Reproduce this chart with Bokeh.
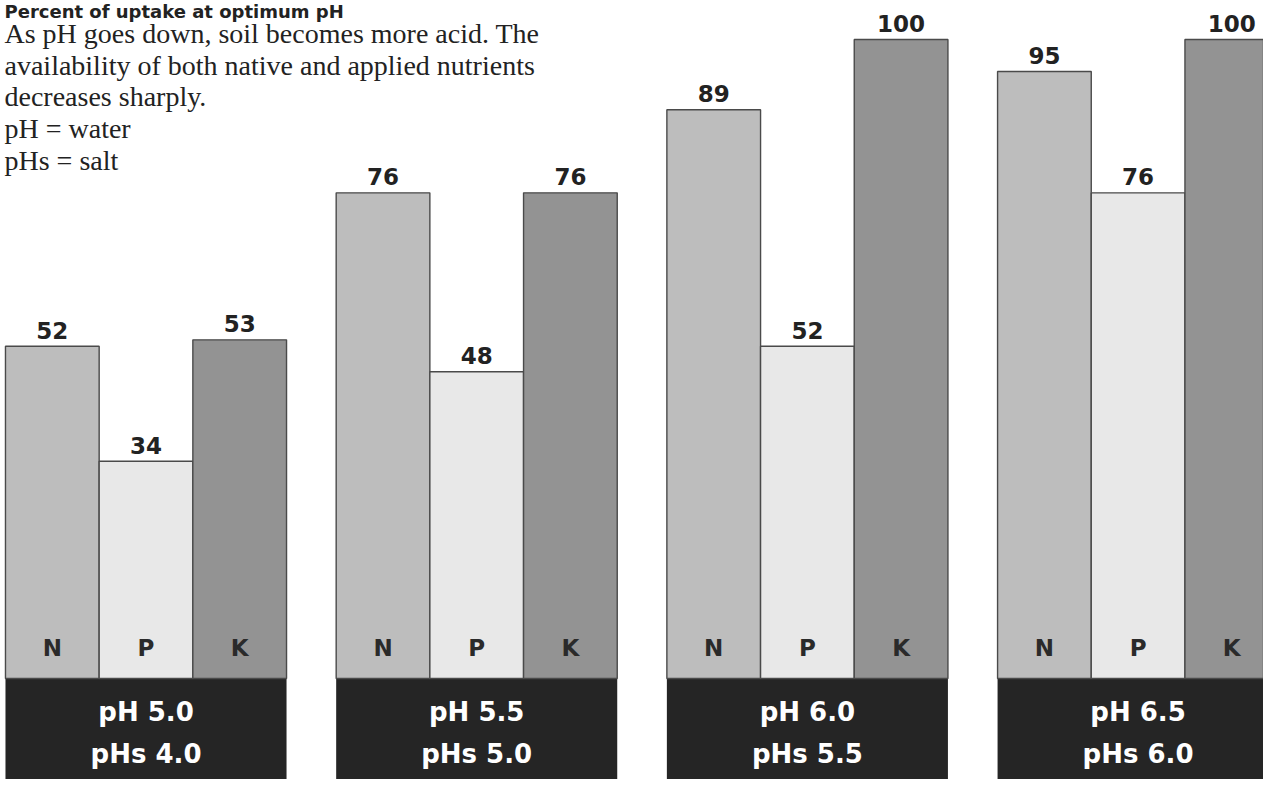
from bokeh.plotting import figure
from bokeh.models import ColumnDataSource, Range1d, Label
from bokeh.embed import file_html
from bokeh.resources import INLINE
from bokeh.core.properties import value

# ---- data ----
nutrients = ["N", "P", "K"]
ph_water = ["pH 5.0", "pH 5.5", "pH 6.0", "pH 6.5"]
ph_salt = ["pHs 4.0", "pHs 5.0", "pHs 5.5", "pHs 6.0"]
n_vals = [52, 76, 89, 95]
p_vals = [34, 48, 52, 76]
k_vals = [53, 76, 100, 100]

title_text = "Percent of uptake at optimum pH"
subtitle_lines = [
    "As pH goes down, soil becomes more acid. The",
    "availability of both native and applied nutrients",
    "decreases sharply.",
    "pH = water",
    "pHs = salt",
]

colors = {"N": "#bdbdbd", "P": "#e8e8e8", "K": "#939393"}
bw = 0.2833  # bar width in group units

xs, tops, fills, labs, nlabs = [], [], [], [], []
for i in range(len(ph_water)):
    for j, (nut, vals) in enumerate(zip(nutrients, [n_vals, p_vals, k_vals])):
        xs.append(i + (j - 1) * bw)
        tops.append(vals[i])
        fills.append(colors[nut])
        labs.append(str(vals[i]))
        nlabs.append(nut)

bars = ColumnDataSource(dict(x=xs, top=tops, fill=fills, lab=labs, nlab=nlabs))
grp = ColumnDataSource(dict(x=list(range(len(ph_water))), w=ph_water, s=ph_salt))

W, H = 1263, 779
p = figure(width=W, height=H, output_backend="svg", toolbar_location=None,
           x_range=Range1d(-0.44, 3.3792), y_range=Range1d(-15.8, 106.1),
           min_border=0)
p.axis.visible = False
p.grid.visible = False
p.outline_line_color = None
p.background_fill_color = "white"

BOLD = value("DejaVu Sans")

# dark base boxes
p.vbar(x="x", width=3 * bw, top=0, bottom=-30, source=grp,
       fill_color="#252525", line_color=None)

# bars
p.vbar(x="x", width=bw, top="top", bottom=0, source=bars,
       fill_color="fill", line_color="#4a4a4a", line_width=1.4)

# value labels
p.text(x="x", y="top", text="lab", source=bars, y_offset=-16,
       text_align="center", text_baseline="alphabetic",
       text_font=BOLD, text_font_style="bold",
       text_font_size="23px", text_color="#222222")

# nutrient letters
p.text(x="x", y=0, text="nlab", source=bars, y_offset=-31,
       text_align="center", text_baseline="alphabetic",
       text_font=BOLD, text_font_style="bold",
       text_font_size="23px", text_color="#2a2a2a")

# group labels
p.text(x="x", y=0, text="w", source=grp, y_offset=33,
       text_align="center", text_baseline="alphabetic",
       text_font=BOLD, text_font_style="bold",
       text_font_size="26px", text_color="white")
p.text(x="x", y=0, text="s", source=grp, y_offset=75,
       text_align="center", text_baseline="alphabetic",
       text_font=BOLD, text_font_style="bold",
       text_font_size="26px", text_color="white")

# title
p.add_layout(Label(x=4, y=H - (17 - 6.3), x_units="screen", y_units="screen",
                   text=title_text, text_font="DejaVu Sans",
                   text_font_style="bold", text_font_size="18px",
                   text_color="#222222", text_baseline="alphabetic"))

base = [43, 75, 106, 138, 170]
for line, b in zip(subtitle_lines, base):
    p.add_layout(Label(x=4, y=H - (b - 9.8), x_units="screen", y_units="screen",
                       text=line, text_font="Liberation Serif",
                       text_font_size="28px", text_color="#222222",
                       text_baseline="alphabetic"))

open("out.html", "w").write(file_html(p, INLINE))
